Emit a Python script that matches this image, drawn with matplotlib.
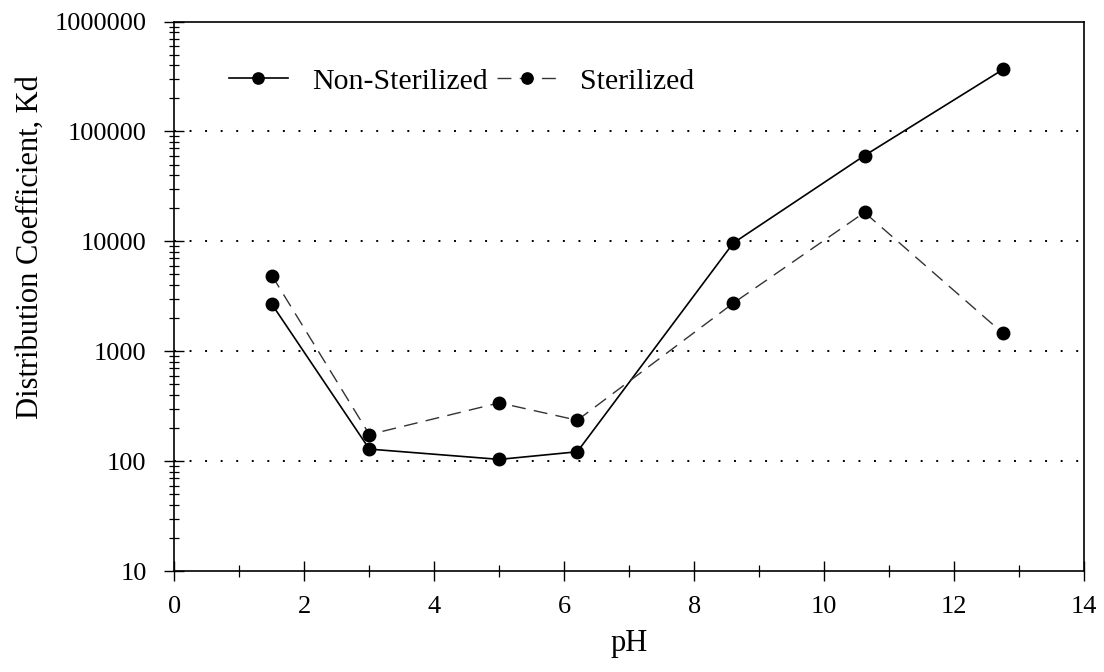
import matplotlib
matplotlib.use("Agg")
import matplotlib.pyplot as plt
from matplotlib.ticker import FixedLocator, LogLocator, NullFormatter, FuncFormatter

plt.rcParams["font.family"] = ["Liberation Serif", "DejaVu Serif"]

ph = [1.5, 3.0, 5.0, 6.2, 8.6, 10.62, 12.75]
kd_non_sterilized = [2680, 129, 104, 122, 9650, 60300, 366000]
kd_sterilized = [4890, 175, 340, 236, 2740, 18350, 1460]

fig, ax = plt.subplots(figsize=(11.04, 6.72), dpi=100)
fig.subplots_adjust(left=0.158, right=0.982, top=0.968, bottom=0.150)

ax.plot(ph, kd_non_sterilized, color="black", linewidth=1.2, marker="o",
        markersize=9, markerfacecolor="black", markeredgecolor="black",
        label="Non-Sterilized", zorder=3)
ax.plot(ph, kd_sterilized, color="#333333", linewidth=1.0, dashes=(10, 6),
        marker="o", markersize=9, markerfacecolor="black",
        markeredgecolor="black", label="Sterilized", zorder=3)

ax.set_yscale("log")
ax.set_xlim(0, 14)
ax.set_ylim(10, 1e6)

# horizontal dotted grid at the inner decades
for level in [1e2, 1e3, 1e4, 1e5]:
    ax.axhline(level, color="black", linewidth=1.4,
               linestyle=(0, (1, 7)), zorder=1)

ax.xaxis.set_major_locator(FixedLocator(range(0, 15, 2)))
ax.xaxis.set_minor_locator(FixedLocator(range(1, 14, 2)))
ax.yaxis.set_major_locator(LogLocator(base=10, numticks=10))
ax.yaxis.set_minor_locator(LogLocator(base=10, subs=range(2, 10), numticks=20))
ax.yaxis.set_major_formatter(FuncFormatter(lambda v, _: f"{int(round(v))}"))
ax.yaxis.set_minor_formatter(NullFormatter())

ax.tick_params(axis="both", which="major", direction="inout", length=14,
               width=1.0, labelsize=19, color="black")
ax.tick_params(axis="both", which="minor", direction="inout", length=9,
               width=0.9, color="black")
ax.tick_params(axis="x", which="major", pad=11)
ax.tick_params(axis="y", which="major", pad=13)
ax.tick_params(axis="y", which="minor", length=7)
ax.tick_params(top=False, right=False, which="both")

for side in ["top", "right", "left", "bottom"]:
    ax.spines[side].set_linewidth(1.2)
    ax.spines[side].set_color("black")

ax.set_xlabel("pH", fontsize=22, labelpad=8)
ax.set_ylabel("Distribution Coefficient, Kd", fontsize=22)
ax.yaxis.set_label_coords(-0.143, 0.59)

ax.legend(loc="upper left", bbox_to_anchor=(0.03, 0.965), ncol=2,
          frameon=False, fontsize=21.5, handlelength=2.0, handletextpad=0.8,
          columnspacing=0.3, markerscale=0.9)

fig.savefig("out.png", dpi=100, facecolor="white")
